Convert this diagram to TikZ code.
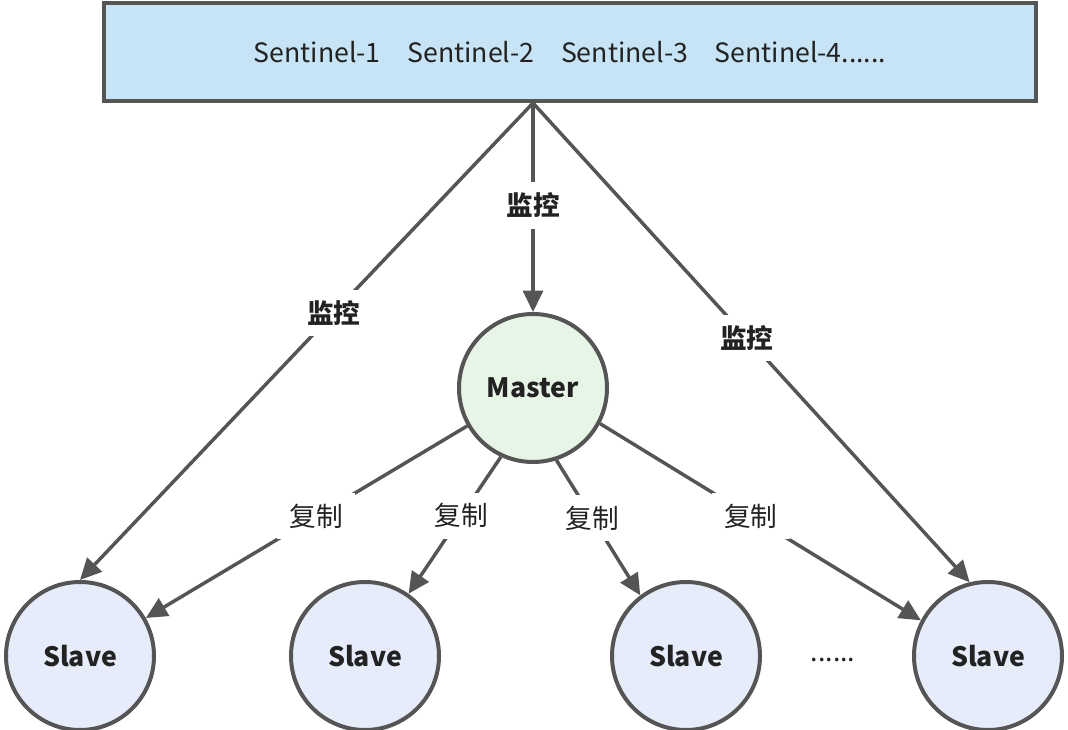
\documentclass[tikz,border=0pt]{standalone}
\usepackage{fontspec}
\setmainfont{Noto Sans CJK SC}
\usepackage{tikz}
\usetikzlibrary{arrows.meta}
\usetikzlibrary{positioning}
\definecolor{boxblue}{RGB}{198, 228, 245}
\definecolor{mastergreen}{RGB}{231, 245, 231}
\definecolor{slaveblue}{RGB}{230, 236, 250}
\definecolor{linegray}{RGB}{85, 85, 85}
\definecolor{textdark}{RGB}{34, 34, 34}
\tikzset{
    arrow/.style={-{Triangle[length=16pt,width=15pt]}, draw=linegray, line width=2.6pt},
    sentinelbox/.style = {
      rectangle,
      draw=linegray,
      line width=3pt,
      fill=boxblue,
      minimum width=699pt,
      minimum height=73.5pt,
      text=textdark,
      font=\fontsize{20}{24}\selectfont
    },
    redis/.style = {
      circle,
      draw=linegray,
      line width=3pt,
      minimum size=111pt,
      inner sep=0pt,
      text=textdark,
      font=\bfseries\fontsize{20}{24}\selectfont
    },
    master/.style = {redis, fill=mastergreen},
    slave/.style = {redis, fill=slaveblue},
    edgetext/.style = {
      fill=white,
      inner xsep=9pt,
      inner ysep=8pt,
      text=textdark,
      font=\fontsize{20}{24}\selectfont
    },
    edgetextbold/.style = {edgetext, font=\bfseries\fontsize{20}{24}\selectfont},
}
\begin{document}
\begin{tikzpicture}[x=0.75pt, y=-0.75pt]
        \useasboundingbox (0,0) rectangle (1068,730);

        \node[sentinelbox] (sentinel) at (570,52)
          {Sentinel-1\hspace{20pt}Sentinel-2\hspace{20pt}Sentinel-3\hspace{20pt}Sentinel-4......};

        \node[master] (master) at (533,388) {Master};
        \node[slave] (slave1) at (80,656) {Slave};
        \node[slave] (slave2) at (365,656) {Slave};
        \node[slave] (slave3) at (686,656) {Slave};
        \node[slave] (slave4) at (988,656) {Slave};
        \node[edgetext, fill=none] (dots) at (833,660) {......};

        \coordinate (apex) at (sentinel.south -| master);

        \draw[arrow] (apex) -- node[edgetextbold, pos=0.44] (watch1) {监控} (slave1.north);
        \draw[arrow] (apex) -- node[edgetextbold, pos=0.49] (watch2) {监控} (master);
        \draw[arrow] (apex) -- node[edgetextbold, pos=0.49] (watch3) {监控} (slave4.104);

        \draw[arrow] (master.210) -- node[edgetext, pos=0.47] (copy1) {复制} (slave1.30);
        \draw[arrow] (master.245) -- node[edgetext, pos=0.43] (copy2) {复制} (slave2.55);
        \draw[arrow] (master.288) -- node[edgetext, pos=0.43] (copy3) {复制} (slave3.127);
        \draw[arrow] (master.332) -- node[edgetext, pos=0.47] (copy4) {复制} (slave4.152);
      \end{tikzpicture}
\end{document}
